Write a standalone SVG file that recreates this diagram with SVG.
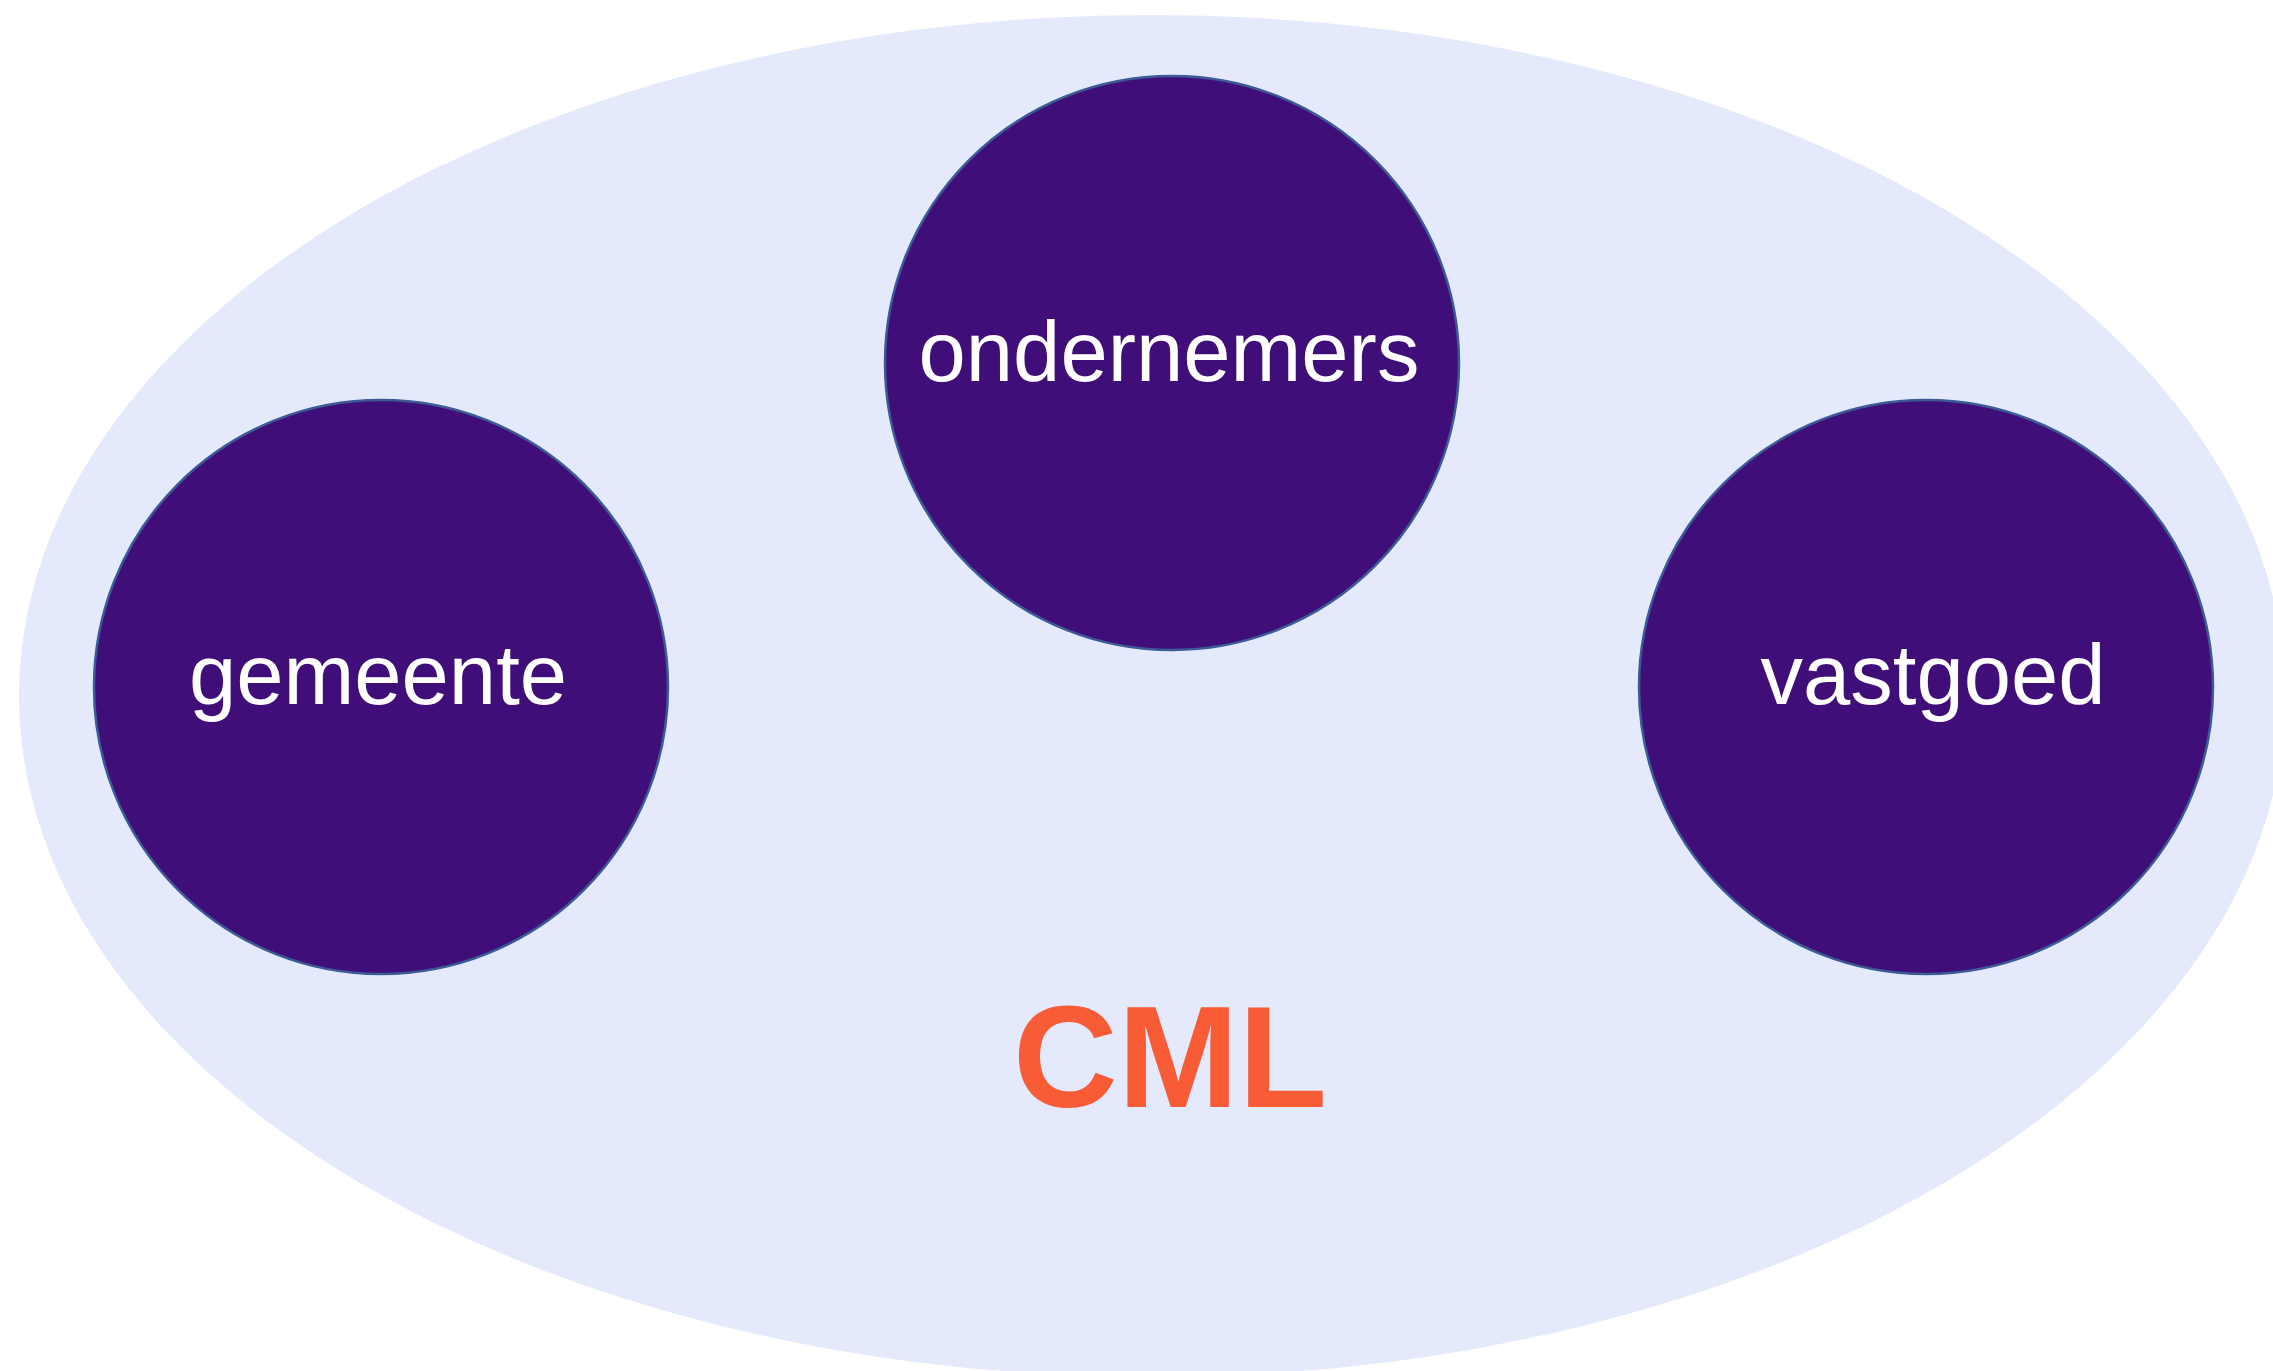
<svg xmlns="http://www.w3.org/2000/svg" width="2273" height="1371" viewBox="0 0 2273 1371">
  <style>
    .node circle { fill: #3f0e78; stroke: #3b5a96; stroke-width: 2.5; }
    .node text { fill: #ffffff; font-family: "Liberation Sans", Arial, sans-serif; font-size: 85px; text-anchor: middle; }
    .title { fill: #f75c36; font-family: "Liberation Sans", Arial, sans-serif; font-size: 145px; font-weight: bold; text-anchor: middle; }
  </style>
  <rect width="2273" height="1371" fill="#ffffff"/>
  <g id="cml">
    <ellipse cx="1152" cy="696" rx="1133" ry="681" fill="#e4eafc"/>
    <text class="title" x="1170" y="1107">CML</text>
  </g>
  <g id="connectors"></g>
  <g id="gemeente" class="node">
    <circle cx="381" cy="687" r="287"/>
    <text x="378" y="704">gemeente</text>
  </g>
  <g id="ondernemers" class="node">
    <circle cx="1172" cy="363" r="287"/>
    <text x="1169" y="381">ondernemers</text>
  </g>
  <g id="vastgoed" class="node">
    <circle cx="1926" cy="687" r="287"/>
    <text x="1933" y="704">vastgoed</text>
  </g>
</svg>
